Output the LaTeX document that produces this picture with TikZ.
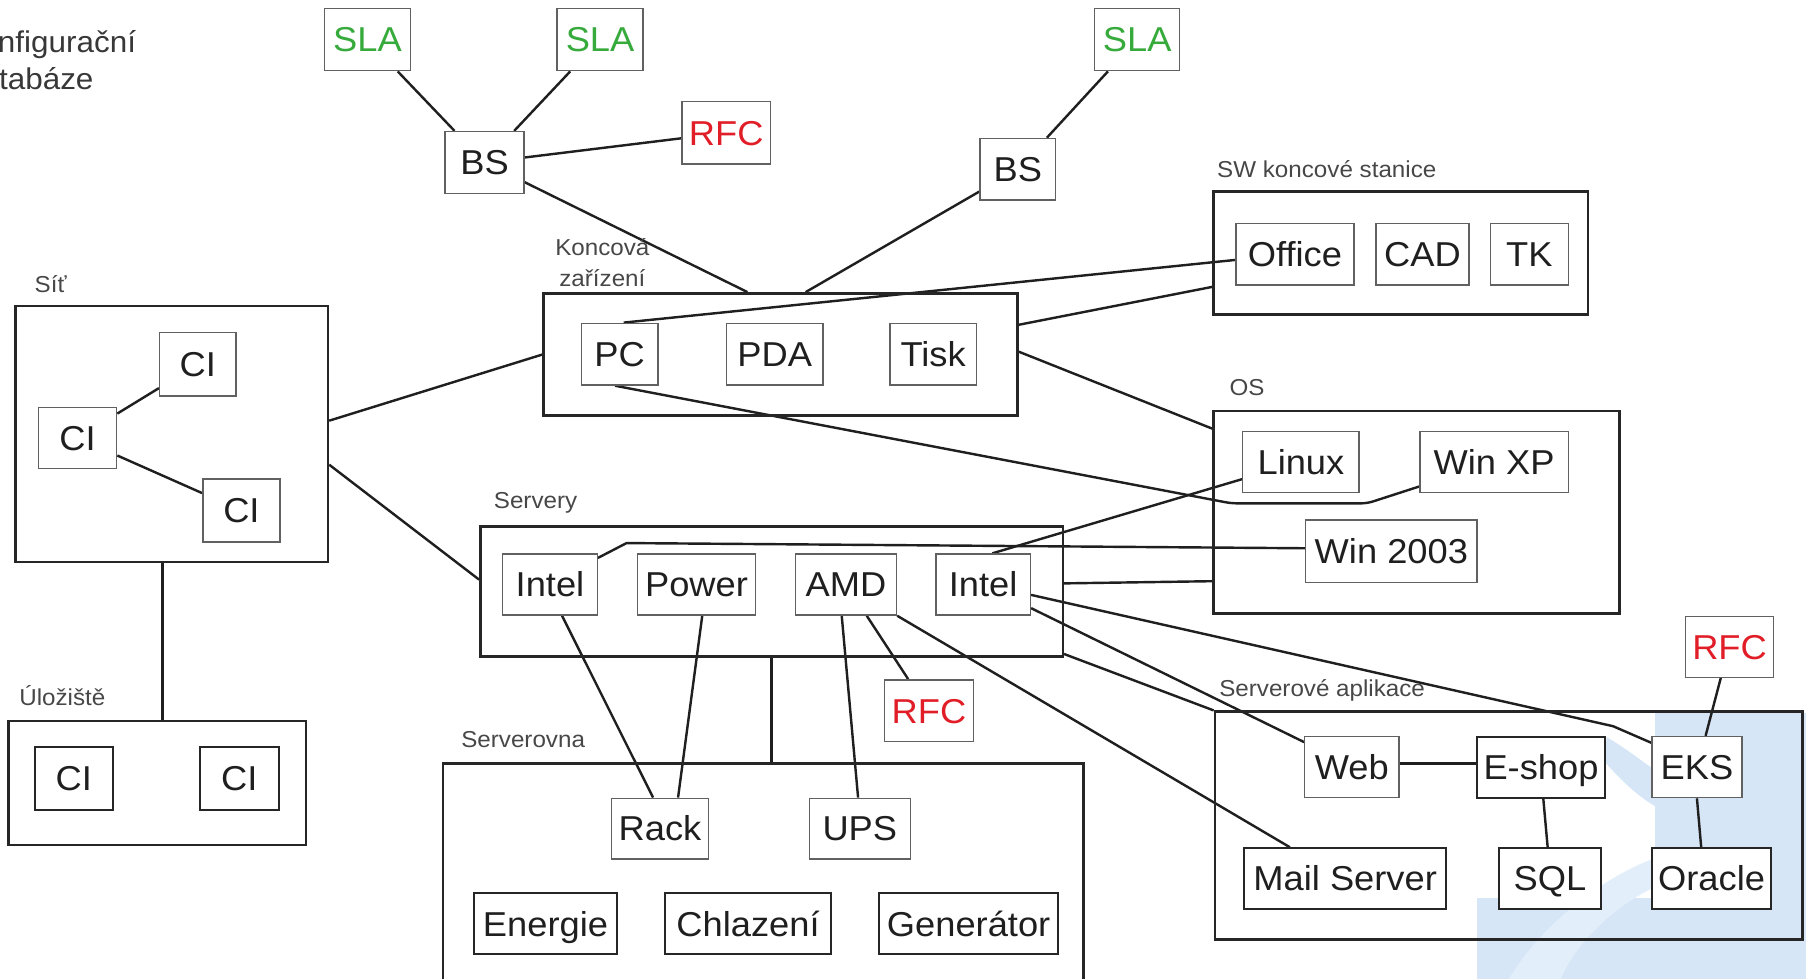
\documentclass[tikz,border=0pt]{standalone}
\usepackage{fontspec}
\setmainfont{Liberation Sans}
\newfontfamily\bxf{Liberation Sans}[FakeStretch=1.05]
\usetikzlibrary{calc,fit}
\definecolor{slagreen}{RGB}{55,170,60}
\definecolor{rfcred}{RGB}{225,30,40}
\definecolor{wmA}{RGB}{214,230,247}
\definecolor{wmB}{RGB}{226,238,250}
\pgfdeclarelayer{wm}
\pgfdeclarelayer{bg}
\pgfsetlayers{wm,bg,main}
\begin{document}
\begin{tikzpicture}[x=1pt,y=-1pt,
  box/.style={draw=black!62, line width=1.2pt, fill=white, inner sep=0pt,
    font=\bxf\fontsize{30}{36}\selectfont, text height=21.5pt, text depth=0pt, text=black!88},
  dbox/.style={box, draw=black!85, line width=1.7pt},
  slabox/.style={box, text=slagreen},
  rfcbox/.style={box, text=rfcred},
  grp/.style={draw=black!85, line width=2.2pt, inner sep=0pt},
  conn/.style={draw=black!88, line width=2.1pt},
  lbl/.style={font=\bxf\fontsize{20}{24}\selectfont, text=black!72, inner sep=0pt, anchor=base west},
  cfg/.style={font=\bxf\fontsize{26}{30}\selectfont, text=black!78, inner sep=0pt, anchor=base west},
]
\useasboundingbox (0,0) rectangle (1568,850);

% ---------- watermark ----------
\begin{pgfonlayer}{wm}
\fill[wmA] (1437,619) rectangle (1568,850);
\fill[wmA] (1282,780) rectangle (1437,850);
\fill[wmB] (1310,850) .. controls (1340,800) and (1395,760) .. (1437,745) -- (1437,770) .. controls (1405,785) and (1370,815) .. (1355,850) -- cycle;
\fill[wmA] (1395,640) .. controls (1420,655) and (1430,665) .. (1437,668) -- (1437,700) .. controls (1420,690) and (1405,675) .. (1392,660) -- cycle;
\end{pgfonlayer}

% ---------- top-left text ----------
\node[cfg] (cfg1) at (-2,45.7) {nfigurační};
\node[cfg] (cfg2) at (-1,77.6) {tabáze};

% ---------- group boxes ----------
\node[grp, fit={(472,254.7) (883.3,360.9)}] (kz) {};
\node[grp, fit={(1053.7,166.4) (1378.7,272.9)}] (sw) {};
\node[grp, fit={(1053.7,356.8) (1406,532.5)}] (os) {};
\node[grp, fit={(13.3,265.7) (284.7,488)}] (sit) {};
\node[grp, fit={(7.3,626.1) (265.8,733.5)}] (uloz) {};
\node[grp, fit={(417,457.3) (922.7,570.1)}] (servery) {};
\node[grp, fit={(1054.8,617.9) (1565.1,815.5)}] (srvapp) {};
\node[inner sep=0pt, fit={(384.8,663.3) (940.7,850)}] (srvna) {};
\draw[grp] (srvna.south west) -- (srvna.north west) -- (srvna.north east) -- (srvna.south east);

% ---------- group labels ----------
\node[lbl] (lsit) at (29.9,254) {Síť};
\node[lbl] (luloz) at (16.6,612.8) {Úložiště};
\node[lbl] (lserv) at (428.6,441.7) {Servery};
\node[lbl] (lsrvna) at (400.3,649.4) {Serverovna};
\node[lbl] (los) at (1067.3,343.8) {OS};
\node[lbl] (lsw) at (1056.6,154) {SW koncové stanice};
\node[lbl] (lapp) at (1058.4,604.8) {Serverové aplikace};
\node[lbl, anchor=base] (lkz1) at (523,221.4) {Koncová};
\node[lbl, anchor=base] (lkz2) at (523,248.9) {zařízení};

% ---------- item boxes ----------
\node[slabox, minimum width=75pt, minimum height=54pt] (sla1) at (319,34.4) {SLA};
\node[slabox, minimum width=74.5pt, minimum height=54pt] (sla2) at (521,34.4) {SLA};
\node[slabox, minimum width=74pt, minimum height=54pt] (sla3) at (987.3,34.4) {SLA};
\node[box, minimum width=68.6pt, minimum height=53.5pt] (bs1) at (420.7,141) {BS};
\node[rfcbox, minimum width=77pt, minimum height=54pt] (rfc1) at (630.5,115.3) {RFC};
\node[box, minimum width=65.8pt, minimum height=53.6pt] (bs2) at (883.7,147) {BS};

\node[box, minimum width=66.7pt, minimum height=53.6pt] (pc) at (538,307.5) {PC};
\node[box, minimum width=84pt, minimum height=53.6pt] (pda) at (672.6,307.5) {PDA};
\node[box, minimum width=74.7pt, minimum height=53.6pt] (tisk) at (810.2,307.5) {Tisk};

\node[box, minimum width=102.7pt, minimum height=53.5pt] (office) at (1124.3,220.7) {Office};
\node[box, minimum width=80.7pt, minimum height=53.5pt] (cad) at (1235,220.7) {CAD};
\node[box, minimum width=67.9pt, minimum height=53.5pt] (tk) at (1327.8,220.7) {TK};

\node[box, minimum width=101pt, minimum height=53pt] (linux) at (1129.5,401.3) {Linux};
\node[box, minimum width=128.9pt, minimum height=53pt] (winxp) at (1297.2,401.3) {Win XP};
\node[box, minimum width=149pt, minimum height=54pt] (win2003) at (1208,478.5) {Win 2003};

\node[box, minimum width=66.4pt, minimum height=54.8pt] (cia) at (171.8,316.3) {CI};
\node[box, minimum width=68pt, minimum height=53pt] (cib) at (67.3,380.2) {CI};
\node[box, minimum width=67pt, minimum height=54.8pt] (cic) at (209.6,443.2) {CI};
\node[dbox, minimum width=68pt, minimum height=54.5pt] (cid) at (64,676) {CI};
\node[dbox, minimum width=68.4pt, minimum height=54.5pt] (cie) at (207.7,676) {CI};

\node[box, minimum width=82pt, minimum height=53pt] (intel1) at (477.5,507.5) {Intel};
\node[box, minimum width=102.6pt, minimum height=53pt] (power) at (604.7,507.5) {Power};
\node[box, minimum width=87.7pt, minimum height=53pt] (amd) at (734.5,507.5) {AMD};
\node[box, minimum width=82pt, minimum height=53pt] (intel2) at (853.6,507.5) {Intel};
\node[rfcbox, minimum width=77pt, minimum height=53.5pt] (rfc2) at (806.5,617) {RFC};

\node[box, minimum width=84pt, minimum height=52.7pt] (rack) at (573,719.4) {Rack};
\node[box, minimum width=87.5pt, minimum height=52.7pt] (ups) at (746.5,719.4) {UPS};
\node[dbox, minimum width=124pt, minimum height=52.7pt] (energie) at (473.6,802) {Energie};
\node[dbox, minimum width=144.6pt, minimum height=52.7pt] (chlazeni) at (649.5,802) {Chlazení};
\node[dbox, minimum width=155.8pt, minimum height=52.7pt] (generator) at (841,802) {Generátor};

\node[box, minimum width=81.8pt, minimum height=53pt] (web) at (1173.7,666) {Web};
\node[dbox, minimum width=110.8pt, minimum height=53pt] (eshop) at (1337.9,666) {E-shop};
\node[box, minimum width=78.1pt, minimum height=53pt] (eks) at (1473.3,666) {EKS};
\node[dbox, minimum width=175.5pt, minimum height=52.7pt] (mail) at (1167.9,762.8) {Mail Server};
\node[dbox, minimum width=87.8pt, minimum height=52.7pt] (sql) at (1345.7,762.8) {SQL};
\node[dbox, minimum width=103.5pt, minimum height=52.7pt] (oracle) at (1486,762.8) {Oracle};
\node[rfcbox, minimum width=76.2pt, minimum height=52.6pt] (rfc3) at (1501.6,561.7) {RFC};

% ---------- helper coordinates ----------
\coordinate (kzT1) at ($(kz.north west)+(178,0)$);
\coordinate (kzT2) at ($(kz.north west)+(228.6,0)$);
\coordinate (pcb1) at (1069,437);
\coordinate (pcb2) at (1187,437);
\coordinate (i1b) at (544,471.5);
\coordinate (eksb) at (1400.5,630.5);

% ---------- connectors ----------
\begin{pgfonlayer}{bg}
\draw[conn] (sla1) -- (bs1);
\draw[conn] (sla2) -- (bs1);
\draw[conn] (bs1) -- (rfc1);
\draw[conn] (sla3) -- (bs2);
\draw[conn] (bs1) -- (kzT1);
\draw[conn] (bs2) -- (kzT2);

\draw[conn] ($(sit.east)+(0,-11.6)$) -- (kz.west);
\draw[conn] ($(sit.east)+(0,26.6)$) -- ($(servery.west)+(0,-10.5)$);
\draw[conn] ($(sit.south)+(-7.8,0)$) -- ($(uloz.north)+(4.65,0)$);
\draw[conn] (cib) -- (cia);
\draw[conn] (cib) -- (cic);

\draw[conn] ($(pc.north)+(3.5,0)$) -- ($(office.west)+(0,5)$);
\draw[conn] ($(kz.east)+(0,-25.8)$) -- ($(sw.west)+(0,29.4)$);
\draw[conn] ($(kz.east)+(0,-2.5)$) -- ($(os.north west)+(0,16.5)$);
\draw[conn, rounded corners=5pt] ($(pc.south)+(-4,0)$) -- (pcb1) -- (pcb2) -- ($(winxp.south west)+(0,-6)$);

\draw[conn] ($(intel2.north)+(8,0)$) -- ($(linux.west)+(0,14.7)$);
\draw[conn] ($(intel1.north east)+(0,4)$) -- (i1b) -- ($(win2003.west)+(0,-2.5)$);
\draw[conn] ($(servery.east)+(0,-7.2)$) -- ($(os.south west)+(0,-29)$);
\draw[conn] ($(intel2.east)+(0,9)$) -- (eksb) -- ($(eks.north west)+(0,6)$);
\draw[conn] ($(intel2.east)+(0,20.5)$) -- ($(web.north west)+(0,5.4)$);
\draw[conn] ($(servery.south east)+(0,-3.4)$) -- (srvapp.north west);
\draw[conn] (amd.south east) -- ($(mail.north)+(-48,0)$);

\draw[conn] ($(intel1.south)+(10.5,0)$) -- ($(rack.north)+(-6,0)$);
\draw[conn] ($(power.south)+(5,0)$) -- ($(rack.north)+(15.7,0)$);
\draw[conn] (servery.south) -- (servery.south |- srvna.north);
\draw[conn] ($(amd.south)+(-3.7,0)$) -- ($(ups.north)+(-1.5,0)$);
\draw[conn] ($(amd.south)+(18,0)$) -- ($(rfc2.north)+(-18,0)$);

\draw[conn] ($(web.east)+(0,-3)$) -- ($(eshop.west)+(0,-3)$);
\draw[conn] ($(eshop.south)+(2,0)$) -- ($(sql.north)+(-2,0)$);
\draw[conn] (eks.south) -- ($(oracle.north)+(-9,0)$);
\draw[conn] ($(rfc3.south)+(-7.6,0)$) -- ($(eks.north)+(7.5,0)$);
\end{pgfonlayer}
\end{tikzpicture}
\end{document}
